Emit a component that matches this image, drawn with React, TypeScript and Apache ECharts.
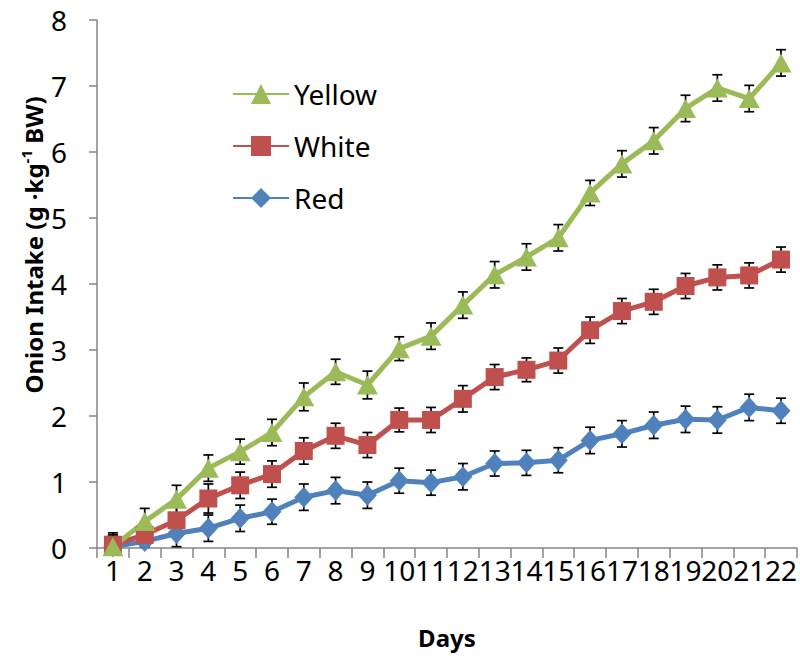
import React, { useEffect, useRef } from "react";
import * as echarts from "echarts";

const days = ["1","2","3","4","5","6","7","8","9","10","11","12","13","14","15","16","17","18","19","20","21","22"];
const yellow = [0.02,0.40,0.74,1.21,1.46,1.75,2.29,2.67,2.47,3.02,3.21,3.68,4.14,4.41,4.70,5.38,5.82,6.17,6.66,6.97,6.81,7.35];
const white = [0.05,0.20,0.42,0.75,0.95,1.12,1.47,1.70,1.56,1.94,1.94,2.26,2.59,2.70,2.84,3.30,3.59,3.73,3.97,4.10,4.13,4.37];
const red = [0.02,0.10,0.22,0.30,0.45,0.55,0.77,0.87,0.80,1.02,0.99,1.08,1.28,1.29,1.33,1.63,1.73,1.86,1.95,1.94,2.13,2.08];
const yellowErr = [0.18,0.20,0.21,0.20,0.19,0.20,0.21,0.19,0.21,0.18,0.20,0.20,0.20,0.20,0.20,0.19,0.20,0.20,0.20,0.20,0.20,0.20];
const whiteErr = [0.18,0.18,0.20,0.22,0.20,0.20,0.20,0.19,0.19,0.18,0.19,0.20,0.19,0.18,0.19,0.20,0.19,0.19,0.19,0.19,0.19,0.19];
const redErr = [0.18,0.18,0.20,0.20,0.20,0.19,0.20,0.20,0.20,0.19,0.19,0.20,0.19,0.19,0.19,0.20,0.20,0.20,0.20,0.20,0.20,0.19];

const FONT = "'Noto Sans', 'Open Sans', sans-serif";

function errSeries(name: string, vals: number[], errs: number[]) {
  return {
    type: "custom",
    name: name + " error",
    z: 1,
    silent: true,
    clip: true,
    data: vals.map((v, i) => [i, v - errs[i], v + errs[i]]),
    encode: { x: 0, y: [1, 2] },
    renderItem: (params: any, api: any) => {
      const x = api.value(0);
      const lo = api.coord([x, api.value(1)]);
      const hi = api.coord([x, api.value(2)]);
      const w = 5;
      const style = { stroke: "#000", lineWidth: 1.7 };
      return {
        type: "group",
        children: [
          { type: "line", shape: { x1: lo[0], y1: lo[1], x2: hi[0], y2: hi[1] }, style },
          { type: "line", shape: { x1: hi[0] - w, y1: hi[1], x2: hi[0] + w, y2: hi[1] }, style },
          { type: "line", shape: { x1: lo[0] - w, y1: lo[1], x2: lo[0] + w, y2: lo[1] }, style },
        ],
      };
    },
  };
}

function lineSeries(name: string, vals: number[], color: string, symbol: string, size: any) {
  return {
    type: "line",
    name,
    z: 3,
    data: vals,
    symbol,
    symbolSize: size,
    lineStyle: { color, width: 5 },
    itemStyle: { color },
  };
}

export default function App() {
  const ref = useRef<HTMLDivElement>(null);
  useEffect(() => {
    if (!ref.current) return;
    const chart = echarts.init(ref.current, null, { renderer: "svg" });
    chart.setOption({
      animation: false,
      backgroundColor: "#fff",
      grid: { left: 97, right: 3, top: 20, bottom: 108 },
      legend: {
        orient: "vertical",
        left: 227,
        top: 74,
        itemWidth: 56,
        itemHeight: 25,
        itemGap: 22,
        data: ["Yellow", "White", "Red"],
        textStyle: { fontSize: 28, fontFamily: FONT, color: "#000", lineHeight: 30 },
      },
      graphic: [
        {
          type: "text",
          x: 33,
          y: 245,
          rotation: Math.PI / 2,
          style: {
            text: "{b|Onion Intake (g ·kg}{s|-1}{b| BW)}",
            align: "center",
            verticalAlign: "middle",
            rich: {
              b: { fontSize: 24, fontWeight: "bold", fontFamily: FONT, fill: "#000", lineHeight: 30 },
              s: { fontSize: 15, fontWeight: "bold", fontFamily: FONT, fill: "#000", verticalAlign: "top", lineHeight: 15 },
            },
          },
        },
      ],
      xAxis: {
        type: "category",
        data: days,
        boundaryGap: true,
        name: "Days",
        nameLocation: "middle",
        nameGap: 77,
        nameTextStyle: { fontSize: 24, fontWeight: "bold", fontFamily: FONT, color: "#000" },
        axisLine: { lineStyle: { color: "#868686", width: 1.5 } },
        axisTick: { show: true, length: 10, alignWithLabel: false, lineStyle: { color: "#868686", width: 1.5 } },
        axisLabel: { interval: 0, margin: 8, fontSize: 28, fontFamily: FONT, color: "#000" },
        splitLine: { show: false },
      },
      yAxis: {
        type: "value",
        min: 0,
        max: 8,
        interval: 1,
        axisLine: { show: true, lineStyle: { color: "#868686", width: 1.5 } },
        axisTick: { show: true, length: 8, lineStyle: { color: "#868686", width: 1.5 } },
        axisLabel: { margin: 30, fontSize: 28, fontFamily: FONT, color: "#000" },
        splitLine: { show: false },
      },
      series: [
        errSeries("Yellow", yellow, yellowErr),
        errSeries("White", white, whiteErr),
        errSeries("Red", red, redErr),
        lineSeries("Red", red, "#4F81BD", "diamond", [19, 21]),
        lineSeries("White", white, "#C0504D", "rect", 18),
        lineSeries("Yellow", yellow, "#9BBB59", "triangle", [21, 19]),
      ],
    });
    return () => chart.dispose();
  }, []);
  return <div ref={ref} style={{ width: 800, height: 656, position: "absolute", left: 0, top: 0 }} />;
}
